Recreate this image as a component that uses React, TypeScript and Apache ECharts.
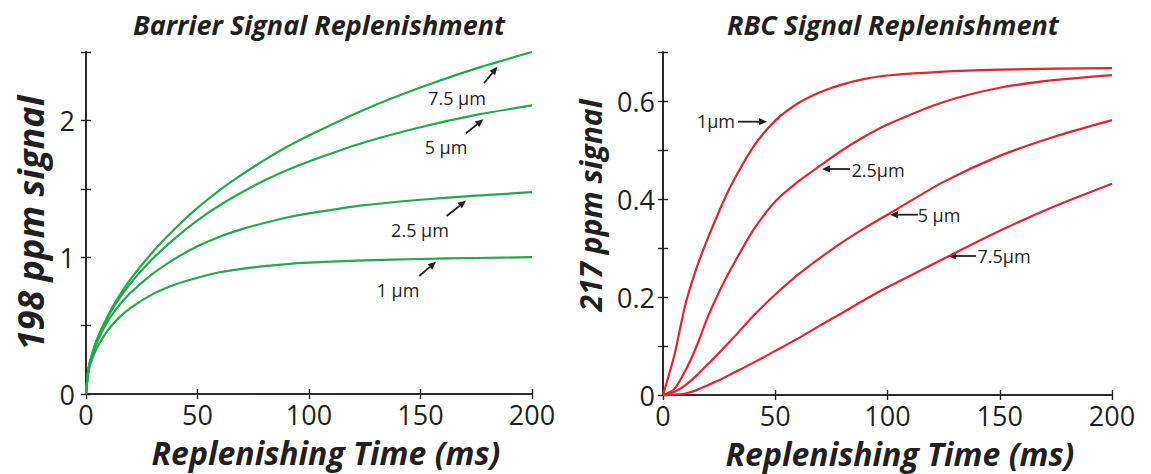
import React, { useEffect, useRef } from "react";
import * as echarts from "echarts";

// ---------- Data ----------
const barrierTimes = [0, 1, 2, 5, 10, 15, 20, 30, 40, 50, 60, 70, 80, 90, 100, 125, 150, 175, 200];
const barrier1um = [0, 0.15, 0.22, 0.34, 0.47, 0.56, 0.63, 0.73, 0.8, 0.85, 0.89, 0.915, 0.935, 0.95, 0.96, 0.977, 0.987, 0.994, 1.0];
const barrier25um = [0, 0.17, 0.24, 0.38, 0.54, 0.65, 0.74, 0.88, 0.99, 1.08, 1.15, 1.205, 1.25, 1.29, 1.32, 1.38, 1.42, 1.45, 1.475];
const barrier5um = [0, 0.17, 0.25, 0.4, 0.57, 0.7, 0.81, 0.99, 1.14, 1.27, 1.38, 1.475, 1.56, 1.635, 1.7, 1.84, 1.95, 2.04, 2.11];
const barrier75um = [0, 0.17, 0.25, 0.4, 0.58, 0.72, 0.84, 1.04, 1.21, 1.36, 1.49, 1.605, 1.71, 1.805, 1.89, 2.08, 2.24, 2.38, 2.5];

const rbcTimes = [0, 5, 10, 15, 20, 25, 30, 40, 50, 60, 70, 80, 90, 100, 125, 150, 175, 200];
const rbc1um = [0, 0.08, 0.185, 0.26, 0.32, 0.375, 0.425, 0.505, 0.56, 0.595, 0.618, 0.634, 0.645, 0.652, 0.66, 0.664, 0.666, 0.667];
const rbc25um = [0, 0.012, 0.05, 0.1, 0.16, 0.21, 0.255, 0.335, 0.395, 0.435, 0.468, 0.5, 0.528, 0.552, 0.598, 0.627, 0.643, 0.653];
const rbc5um = [0, 0.006, 0.02, 0.04, 0.063, 0.086, 0.11, 0.16, 0.205, 0.245, 0.28, 0.312, 0.341, 0.368, 0.435, 0.488, 0.528, 0.561];
const rbc75um = [0, 0.001, 0.003, 0.01, 0.02, 0.03, 0.042, 0.065, 0.09, 0.115, 0.142, 0.168, 0.195, 0.22, 0.278, 0.335, 0.386, 0.431];

const xTicks = [0, 50, 100, 150, 200];
const barrierYLabels = ["0", "1", "2"];
const rbcYLabels = ["0", "0.2", "0.4", "0.6"];

const barrierLabels = ["1 \u00b5m", "2.5 \u00b5m", "5 \u00b5m", "7.5 \u00b5m"];
const rbcLabels = ["1\u00b5m", "2.5\u00b5m", "5 \u00b5m", "7.5\u00b5m"];

// ---------- Styles ----------
const GREEN = "#20aa4a";
const RED = "#e5232e";
const INK = "#231f20";
const FONT = "'Open Sans', 'Noto Sans', sans-serif";

const pairs = (ts: number[], vs: number[]) => ts.map((t, i) => [t, vs[i]]);

function arrow(x1: number, y1: number, x2: number, y2: number) {
  const ang = Math.atan2(y2 - y1, x2 - x1);
  const L = 8;
  const W = 3.6;
  const bx = x2 - L * Math.cos(ang);
  const by = y2 - L * Math.sin(ang);
  const px = -Math.sin(ang) * W;
  const py = Math.cos(ang) * W;
  return [
    {
      type: "line",
      shape: { x1, y1, x2: bx, y2: by },
      style: { stroke: INK, lineWidth: 1.8 },
      silent: true,
    },
    {
      type: "polygon",
      shape: { points: [[x2, y2], [bx + px, by + py], [bx - px, by - py]] },
      style: { fill: INK },
      silent: true,
    },
  ];
}

function label(text: string, x: number, y: number) {
  return {
    type: "text",
    x,
    y,
    style: {
      text,
      fontFamily: FONT,
      fontSize: 18,
      fill: INK,
      align: "center",
      verticalAlign: "middle",
    },
    silent: true,
  };
}

export default function App() {
  const ref = useRef<HTMLDivElement>(null);

  useEffect(() => {
    if (!ref.current) return;
    const chart = echarts.init(ref.current, undefined, { renderer: "svg" });

    const axisLine = { show: true, lineStyle: { color: INK, width: 1.6 } };
    const tick = { show: true, inside: true, length: 5, lineStyle: { color: INK, width: 1.4 } };
    const tickLabel = { color: INK, fontFamily: FONT, fontSize: 27 };

    const xAxisFor = (gi: number, shiftPad: number) => [
      {
        type: "value",
        gridIndex: gi,
        min: 0,
        max: 200,
        interval: 50,
        position: "bottom",
        axisLine,
        axisTick: tick,
        splitLine: { show: false },
        axisLabel: {
          ...tickLabel,
          margin: 7,
          formatter: (v: number) => {
            const i = xTicks.indexOf(Math.round(v));
            return i >= 0 ? String(xTicks[i]) : "";
          },
        },
        name: "Replenishing Time (ms)",
        nameLocation: "middle",
        nameGap: 42,
        nameMoveOverlap: false,
        nameTextStyle: {
          color: INK,
          fontFamily: FONT,
          fontSize: 32,
          fontWeight: "bold",
          fontStyle: "italic",
          padding: [0, 0, 0, shiftPad],
        },
      },
      {
        type: "value",
        gridIndex: gi,
        min: 0,
        max: 200,
        interval: 50,
        position: "top",
        axisLine,
        axisTick: tick,
        splitLine: { show: false },
        axisLabel: { show: false },
      },
    ];

    const lineSeries = (vals: number[], ts: number[], name: string, axis: number, color: string) => ({
      type: "line",
      name,
      xAxisIndex: axis,
      yAxisIndex: axis,
      data: pairs(ts, vals),
      showSymbol: false,
      smooth: 0.25,
      lineStyle: { color, width: 2.2 },
    });

    const option: any = {
      animation: false,
      backgroundColor: "#ffffff",
      title: [
        {
          text: "Barrier Signal Replenishment",
          left: 314,
          top: 6,
          textAlign: "center",
          textStyle: { color: INK, fontFamily: FONT, fontSize: 27, fontWeight: "bold", fontStyle: "italic" },
        },
        {
          text: "RBC Signal Replenishment",
          left: 888,
          top: 6,
          textAlign: "center",
          textStyle: { color: INK, fontFamily: FONT, fontSize: 27, fontWeight: "bold", fontStyle: "italic" },
        },
      ],
      grid: [
        { left: 86, top: 52, width: 446, height: 342, outerBoundsMode: "none", containLabel: false },
        { left: 663, top: 52, width: 449, height: 343, outerBoundsMode: "none", containLabel: false },
      ],
      xAxis: [...xAxisFor(0, 34), ...xAxisFor(1, 25)],
      yAxis: [
        {
          type: "value",
          gridIndex: 0,
          min: 0,
          max: 2.5,
          interval: 0.5,
          position: "left",
          axisLine,
          axisTick: tick,
          splitLine: { show: false },
          axisLabel: {
            ...tickLabel,
            margin: 11,
            formatter: (v: number) => {
              const k = Math.round(v * 2);
              return k % 2 === 0 && k / 2 < barrierYLabels.length ? barrierYLabels[k / 2] : "";
            },
          },
          name: "198 ppm signal",
          nameLocation: "middle",
          nameGap: 38,
          nameMoveOverlap: false,
          nameTextStyle: { color: INK, fontFamily: FONT, fontSize: 36, fontWeight: "bold", fontStyle: "italic" },
        },
        {
          type: "value",
          gridIndex: 0,
          min: 0,
          max: 2.5,
          interval: 0.5,
          position: "right",
          axisLine,
          axisTick: tick,
          splitLine: { show: false },
          axisLabel: { show: false },
        },
        {
          type: "value",
          gridIndex: 1,
          min: 0,
          max: 0.7,
          interval: 0.1,
          position: "left",
          axisLine,
          axisTick: tick,
          splitLine: { show: false },
          axisLabel: {
            ...tickLabel,
            margin: 8,
            formatter: (v: number) => {
              const k = Math.round(v * 10);
              return k % 2 === 0 && k / 2 < rbcYLabels.length ? rbcYLabels[k / 2] : "";
            },
          },
          name: "217 ppm signal",
          nameLocation: "middle",
          nameGap: 58,
          nameMoveOverlap: false,
          nameTextStyle: {
            color: INK,
            fontFamily: FONT,
            fontSize: 30,
            fontWeight: "bold",
            fontStyle: "italic",
            padding: [0, 0, 0, 36],
          },
        },
        {
          type: "value",
          gridIndex: 1,
          min: 0,
          max: 0.7,
          interval: 0.1,
          position: "right",
          axisLine,
          axisTick: tick,
          splitLine: { show: false },
          axisLabel: { show: false },
        },
      ],
      series: [
        ...[barrier1um, barrier25um, barrier5um, barrier75um].map((vals, i) =>
          lineSeries(vals, barrierTimes, barrierLabels[i], 0, GREEN)
        ),
        ...[rbc1um, rbc25um, rbc5um, rbc75um].map((vals, i) => lineSeries(vals, rbcTimes, rbcLabels[i], 2, RED)),
      ],
      graphic: [
        ...arrow(484, 83.3, 497.3, 66.7),
        ...arrow(466, 133.3, 483.3, 119.3),
        ...arrow(446.7, 216, 466, 200.7),
        ...arrow(419.3, 276, 436, 261.7),
        label(barrierLabels[3], 457, 97.6),
        label(barrierLabels[2], 446, 147),
        label(barrierLabels[1], 420, 230),
        label(barrierLabels[0], 398, 290),
        ...arrow(738, 121.7, 767, 121.7),
        ...arrow(850, 169, 822, 169),
        ...arrow(918, 214.7, 890, 214.7),
        ...arrow(976, 256, 948, 256),
        label(rbcLabels[0], 716, 121),
        label(rbcLabels[1], 878, 170),
        label(rbcLabels[2], 939, 215),
        label(rbcLabels[3], 1004, 256),
      ],
    };

    chart.setOption(option);
    return () => chart.dispose();
  }, []);

  return (
    <div
      ref={ref}
      style={{ position: "absolute", left: 0, top: 0, width: 1151, height: 474, background: "#fff" }}
    />
  );
}
